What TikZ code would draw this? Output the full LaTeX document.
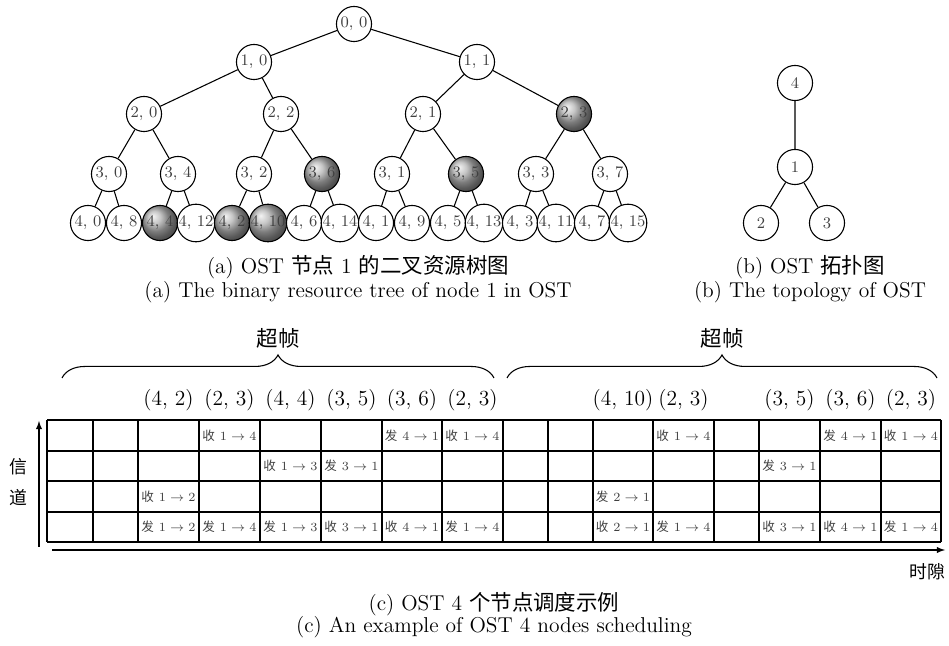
\documentclass[tikz,border=0pt]{standalone}
\usepackage{fontspec}
\newfontfamily\cjk{Noto Sans CJK SC}
\usepackage{tikz}
\usetikzlibrary{arrows,positioning,shadings,decorations.pathreplacing}
\newcommand{\zh}[1]{{\cjk #1}}
\newcommand{\slotmsg}[3]{\zh{#1} $#2\rightarrow#3$}
\tikzset{
    res/.style={
    circle,draw=black,fill=white,line width=0.6pt,minimum size=19.6pt,inner sep=0pt,text=black!75,font=\small
    },
    busy/.style={
    res,shading=ball,ball color=gray!60
    },
    topo/.style={
    circle,draw=black,line width=0.6pt,minimum size=19.6pt,inner sep=0pt,text=black!75,font=\small
    },
  branch/.style={draw, line width=0.6pt},
  slot/.style={draw, line width=0.6pt},
  axis/.style={draw, line width=0.6pt, -latex},
  msg/.style={font=\scriptsize, text=black!75, inner sep=1pt},
  pairlbl/.style={font=\large, inner sep=1pt},
  captxt/.style={font=\large, inner sep=1pt},
  sframe/.style={decorate, decoration={brace,amplitude=12.9pt}, line width=0.6pt},
}

\begin{document}
\begin{tikzpicture}[x=0.5587pt,y=-0.5587pt]
\useasboundingbox (0,0) rectangle (949,646);

% (a) binary resource tree
\node[res] (n0-0) at (354,24) {0, 0};
\node[res] (n1-0) at (254,62) {1, 0};
\node[res] (n1-1) at (477,62) {1, 1};
\foreach \k/\x/\s in {0/144/res,2/281/res,1/423/res,3/574/busy}
  \node[\s] (n2-\k) at (\x,114) {2, \k};
\foreach \k/\x/\s in {0/109/res,4/178/res,2/254/res,6/322/busy,1/392/res,5/466/busy,3/536/res,7/610/res}
  \node[\s] (n3-\k) at (\x,174) {3, \k};
\foreach \k/\s [count=\i from 0] in {0/res,8/res,4/busy,12/res,2/busy,10/busy,6/res,14/res,1/res,9/res,5/res,13/res,3/res,11/res,7/res,15/res}
  \node[\s] (n4-\k) at ({88+36*\i},223) {4, \k};
\foreach \a/\b in {0-0/1-0,0-0/1-1,1-0/2-0,1-0/2-2,1-1/2-1,1-1/2-3,
    2-0/3-0,2-0/3-4,2-2/3-2,2-2/3-6,2-1/3-1,2-1/3-5,2-3/3-3,2-3/3-7,
    3-0/4-0,3-0/4-8,3-4/4-4,3-4/4-12,3-2/4-2,3-2/4-10,3-6/4-6,3-6/4-14,
    3-1/4-1,3-1/4-9,3-5/4-5,3-5/4-13,3-3/4-3,3-3/4-11,3-7/4-7,3-7/4-15}
  \path[branch] (n\a) -- (n\b);
\node[captxt] (capa-zh) at (358,267) {(a) OST \zh{节点} 1 \zh{的二叉资源树图}};
\node[captxt] (capa-en) at (358,292) {(a) The binary resource tree of node 1 in OST};

% (b) topology
\node[topo] (p4) at (795,83) {4};
\node[topo] (p1) at (795,167) {1};
\node[topo] (p2) at (761,223) {2};
\node[topo] (p3) at (827,223) {3};
\path[branch] (p4) -- (p1) (p1) -- (p2) (p1) -- (p3);
\node[captxt] (capb-zh) at (810,267) {(b) OST \zh{拓扑图}};
\node[captxt] (capb-en) at (810,292) {(b) The topology of OST};

% (c) schedule: superframes
\coordinate (sf1-a) at (62,378);
\coordinate (sf1-b) at (494,378);
\coordinate (sf2-a) at (507,378);
\coordinate (sf2-b) at (937,378);
\draw[sframe] (sf1-a) -- (sf1-b);
\draw[sframe] (sf2-a) -- (sf2-b);
\node[font=\large] (sf1) at (278,338) {\zh{超帧}};
\node[font=\large] (sf2) at (722,338) {\zh{超帧}};

\foreach \x/\t [count=\j] in {168.5/{4, 2},229.5/{2, 3},290.5/{4, 4},351.5/{3, 5},412/{3, 6},472.5/{2, 3},
    623/{4, 10},683.5/{2, 3},789.5/{3, 5},850.5/{3, 6},911/{2, 3}}
  \node[pairlbl] (pr\j) at (\x,400) {(\t)};

% slot grid
\foreach \x/\w in {47/0.6,93/0.6,138/0.6,199/0.6,260/0.6,321/0.6,382/0.6,442/0.6,503/0.6,548/0.6,
    593/1,653/0.6,714/0.6,759/0.6,820/0.6,881/0.6,941/0.6}
  \draw[slot, line width=\w pt] (\x,420) -- (\x,542);
\foreach \y in {420,451,481,512,542}
  \draw[slot] (47,\y) -- (941,\y);

\foreach \x/\y/\a/\src/\dst [count=\m] in {229.5/435.5/收/1/4, 412/435.5/发/4/1, 472.5/435.5/收/1/4,
    683.5/435.5/收/1/4, 850.5/435.5/发/4/1, 911/435.5/收/1/4,
    290.5/466/收/1/3, 351.5/466/发/3/1, 789.5/466/发/3/1,
    168.5/496.5/收/1/2, 623/496.5/发/2/1,
    168.5/527/发/1/2, 229.5/527/发/1/4, 290.5/527/发/1/3, 351.5/527/收/3/1, 412/527/收/4/1,
    472.5/527/发/1/4, 623/527/收/2/1, 683.5/527/发/1/4, 789.5/527/收/3/1, 850.5/527/收/4/1, 911/527/发/1/4}
  \node[msg] (m\m) at (\x,\y) {\slotmsg{\a}{\src}{\dst}};

% axes
\coordinate (ch-o) at (39,547);
\coordinate (ch-e) at (39,421);
\coordinate (ts-o) at (52,550);
\coordinate (ts-e) at (945,550);
\draw[axis] (ch-o) -- (ch-e);
\draw[axis] (ts-o) -- (ts-e);
\node[align=center, inner sep=0pt] (chlbl) at (18,482) {\zh{信}\\[5pt]\zh{道}};
\node[inner sep=0pt] (tslbl) at (927,572) {\zh{时隙}};

\node[captxt] (capc-zh) at (494,604) {(c) OST 4 \zh{个节点调度示例}};
\node[captxt] (capc-en) at (494,627) {(c) An example of OST 4 nodes scheduling};
\end{tikzpicture}
\end{document}
